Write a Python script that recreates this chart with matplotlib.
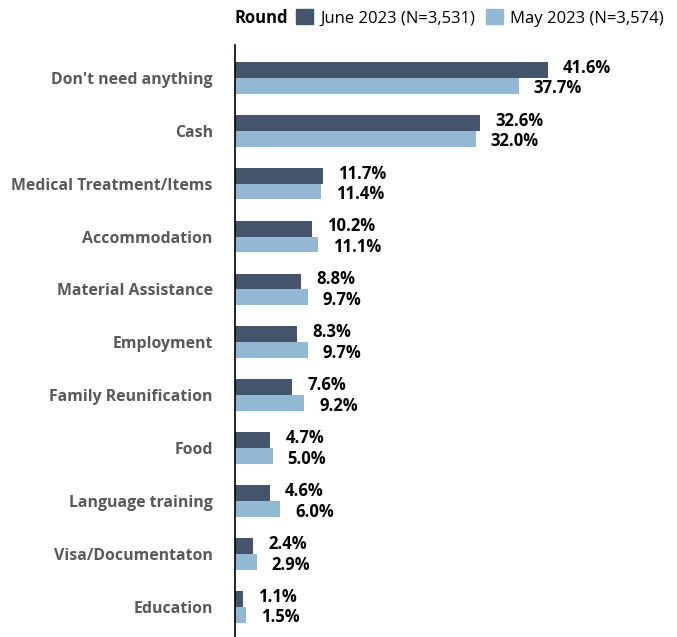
import numpy as np
import matplotlib.pyplot as plt
from matplotlib.patches import Patch

# ========================
# data
# ========================
categories = ["Don't need anything", "Cash", "Medical Treatment/Items", "Accommodation",
              "Material Assistance", "Employment", "Family Reunification", "Food",
              "Language training", "Visa/Documentaton", "Education"]
june_vals = [41.6, 32.6, 11.7, 10.2, 8.8, 8.3, 7.6, 4.7, 4.6, 2.4, 1.1]
may_vals = [37.7, 32.0, 11.4, 11.1, 9.7, 9.7, 9.2, 5.0, 6.0, 2.9, 1.5]
series_names = ["June 2023 (N=3,531)", "May 2023 (N=3,574)"]

DARK = "#44546a"
LIGHT = "#93b8d4"

plt.rcParams['font.family'] = ['Open Sans', 'DejaVu Sans']

W, H = 677, 637
fig = plt.figure(figsize=(W / 100, H / 100), dpi=100)
# axes from x=235px to right edge, y from 45px to bottom
ax = fig.add_axes([235 / W, 0, 1 - 235 / W, 1 - 45 / H])

y = np.arange(len(categories))
bh = 0.30
ax.barh(y - bh / 2, june_vals, height=bh, color=DARK)
ax.barh(y + bh / 2, may_vals, height=bh, color=LIGHT)

# value labels, spread a little away from the bar centres
for yi, v in zip(y, june_vals):
    ax.text(v + 2.0, yi - bh / 2 - 0.04, f"{v:.1f}%", va='center', ha='left',
            fontsize=12, fontweight='bold', color='black')
for yi, v in zip(y, may_vals):
    ax.text(v + 2.0, yi + bh / 2 + 0.05, f"{v:.1f}%", va='center', ha='left',
            fontsize=12, fontweight='bold', color='black')

ax.set_xlim(0, (W - 235) / 7.52)
ax.set_ylim(10.57, -0.62)
ax.set_yticks(y)
ax.set_yticklabels(categories, fontsize=11.4, fontweight='bold', color='#595959')
ax.tick_params(axis='y', length=0, pad=16)
ax.set_xticks([])
for s in ['top', 'right', 'bottom']:
    ax.spines[s].set_visible(False)
ax.spines['left'].set_color('black')
ax.spines['left'].set_linewidth(1.2)

# legend at top
fig.text(235 / W, 1 - 18 / H, "Round", fontsize=12, fontweight='bold', va='center', ha='left')
handles = [Patch(color=DARK), Patch(color=LIGHT)]
fig.legend(handles, series_names, loc='center left', bbox_to_anchor=(296 / W, 1 - 18 / H),
           ncol=2, frameon=False, fontsize=12, handlelength=1.0, handleheight=1.0,
           handletextpad=0.45, columnspacing=0.65, borderaxespad=0, borderpad=0)

fig.savefig("out.png", dpi=100)
